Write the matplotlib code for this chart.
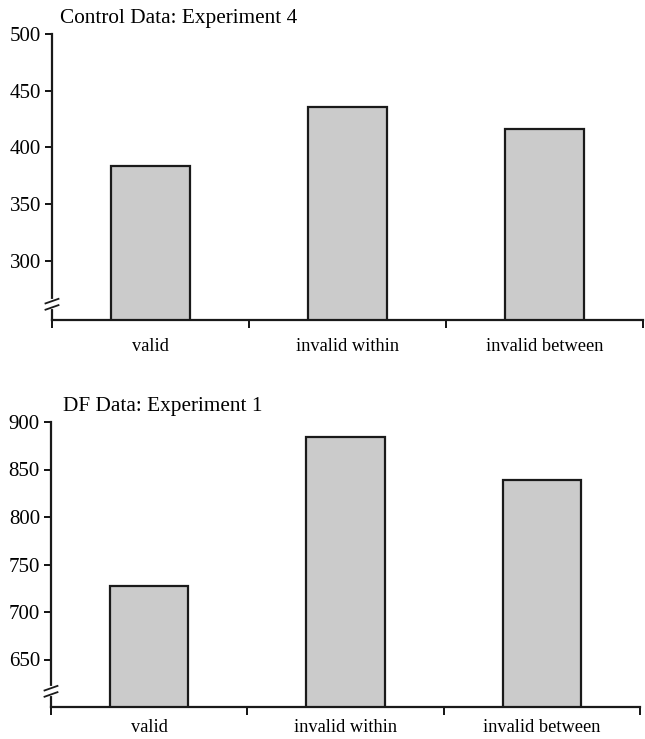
import matplotlib.pyplot as plt
from matplotlib.lines import Line2D

plt.rcParams['font.family'] = ['Liberation Serif', 'DejaVu Serif']

categories = ['valid', 'invalid within', 'invalid between']
control_rt = [383.5, 435.8, 416.2]
df_rt = [727, 884, 839]

control_ticks = [300, 350, 400, 450, 500]
df_ticks = [650, 700, 750, 800, 850, 900]

fig = plt.figure(figsize=(6.45, 7.39), dpi=100)


def draw_panel(rect, values, ylim, yticks, title, title_xy, label_pad):
    ax = fig.add_axes(rect)
    x = range(len(values))
    ax.bar(x, values, width=0.40, color='#cbcbcb', edgecolor='#1a1a1a',
           linewidth=1.6, zorder=2)
    ax.set_xlim(-0.5, len(values) - 0.5)
    ax.set_ylim(*ylim)
    ax.set_yticks(yticks)
    ax.tick_params(axis='y', direction='out', length=5, width=1.3,
                   labelsize=15, pad=3)

    # category labels at centres, tick marks at the boundaries
    ax.set_xticks(list(x))
    ax.set_xticklabels(categories)
    ax.tick_params(axis='x', which='major', length=0, labelsize=13.2, pad=label_pad)
    ax.set_xticks([i - 0.5 for i in range(len(values) + 1)], minor=True)
    ax.tick_params(axis='x', which='minor', direction='out', length=6, width=1.3)

    for s in ['top', 'right']:
        ax.spines[s].set_visible(False)
    for s in ['left', 'bottom']:
        ax.spines[s].set_linewidth(1.6)
        ax.spines[s].set_color('#1a1a1a')

    # axis break marks on the y axis
    yb = 0.055
    ax.add_line(Line2D([0, 0], [yb - 0.011, yb + 0.011], color='white', lw=3,
                       transform=ax.transAxes, clip_on=False, zorder=5))
    for dy in (-0.011, 0.011):
        ax.add_line(Line2D([-0.011, 0.011], [yb + dy - 0.008, yb + dy + 0.008],
                           color='#1a1a1a', lw=1.3, transform=ax.transAxes,
                           clip_on=False, zorder=6))

    fig.text(title_xy[0], title_xy[1], title, fontsize=15.3, ha='left', va='center')
    return ax


draw_panel([52 / 645, (739 - 320) / 739, 591 / 645, 286 / 739],
           control_rt, (248, 500), control_ticks,
           'Control Data: Experiment 4', (60 / 645, (739 - 18) / 739), 13)
draw_panel([51 / 645, (739 - 707) / 739, 589 / 645, 285 / 739],
           df_rt, (600, 900), df_ticks,
           'DF Data: Experiment 1', (63 / 645, (739 - 407) / 739), 9)

fig.savefig('out.png', dpi=100)
